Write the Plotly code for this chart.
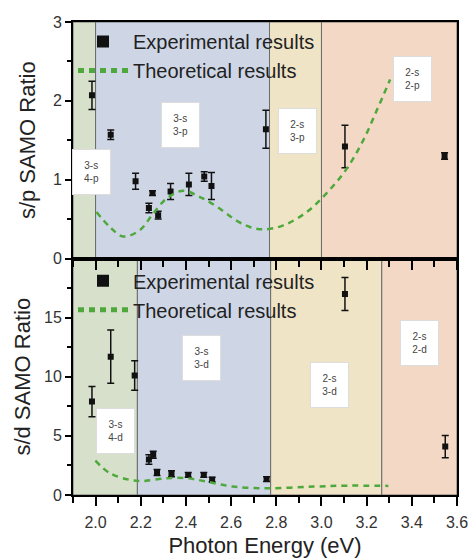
import plotly.graph_objects as go
from plotly.subplots import make_subplots

# ---------------- data ----------------
sp_energy = [1.984, 2.067, 2.177, 2.236, 2.252, 2.277, 2.332, 2.413, 2.481, 2.513, 2.754, 3.104, 3.545]
sp_ratio = [2.07, 1.57, 0.98, 0.64, 0.83, 0.55, 0.85, 0.94, 1.04, 0.92, 1.64, 1.42, 1.30]
sp_err = [0.18, 0.06, 0.10, 0.06, 0.03, 0.05, 0.10, 0.14, 0.06, 0.17, 0.24, 0.27, 0.04]

sp_theory_energy = [2.004, 2.063, 2.122, 2.196, 2.255, 2.314, 2.388, 2.462, 2.536, 2.624, 2.683, 2.742, 2.831, 2.935, 3.023, 3.112, 3.185, 3.245, 3.304]
sp_theory_ratio = [0.59, 0.40, 0.28, 0.36, 0.57, 0.76, 0.86, 0.78, 0.66, 0.48, 0.40, 0.37, 0.42, 0.59, 0.83, 1.14, 1.50, 1.88, 2.27]

sd_energy = [1.984, 2.067, 2.173, 2.236, 2.255, 2.272, 2.336, 2.410, 2.479, 2.516, 2.757, 3.104, 3.548]
sd_ratio = [7.9, 11.7, 10.1, 3.0, 3.4, 1.9, 1.8, 1.7, 1.7, 1.3, 1.35, 17.0, 4.1]
sd_err = [1.28, 2.26, 1.25, 0.4, 0.3, 0.25, 0.25, 0.2, 0.2, 0.2, 0.2, 1.4, 0.94]

sd_theory_energy = [1.999, 2.063, 2.151, 2.210, 2.314, 2.403, 2.491, 2.609, 2.772, 2.964, 3.112, 3.296]
sd_theory_ratio = [2.9, 1.85, 1.28, 1.19, 1.42, 1.42, 1.14, 0.71, 0.57, 0.71, 0.79, 0.77]

top_bands = [1.9, 2.0, 2.77, 3.0, 3.6]
bottom_bands = [1.9, 2.185, 2.775, 3.267, 3.6]
band_colors = ["#d6e0cb", "#ced6e6", "#efe4c5", "#f3d8c6"]

top_labels = ["3-s<br>4-p", "3-s<br>3-p", "2-s<br>3-p", "2-s<br>2-p"]
top_label_x = [1.981, 2.377, 2.894, 3.401]
top_label_y = [1.10, 1.69, 1.62, 2.28]
bottom_labels = ["3-s<br>4-d", "3-s<br>3-d", "2-s<br>3-d", "2-s<br>2-d"]
bottom_label_x = [2.089, 2.468, 3.036, 3.435]
bottom_label_y = [5.4, 11.55, 9.33, 12.83]

top_ticks = [0, 1, 2, 3]
bottom_ticks = [0, 5, 10, 15]
x_ticks = [2.0, 2.2, 2.4, 2.6, 2.8, 3.0, 3.2, 3.4, 3.6]

# ---------------- figure ----------------
FONT = "Liberation Sans, Arial, sans-serif"
GREEN = "#4fa83c"

fig = make_subplots(rows=2, cols=1, shared_xaxes=True, vertical_spacing=0)

# background bands
for bands, yref, xref in [(top_bands, "y domain", "x"), (bottom_bands, "y2 domain", "x2")]:
    for i in range(len(bands) - 1):
        fig.add_shape(type="rect", xref=xref, yref=yref, x0=bands[i], x1=bands[i + 1], y0=0, y1=1,
                      fillcolor=band_colors[i], line=dict(color="#6b6b6b", width=1), layer="below")

def add_panel(row, ex, ey, ee, tx, ty, legend):
    fig.add_trace(go.Scatter(x=ex, y=ey, mode="markers",
                             marker=dict(symbol="square", size=6, color="#111"),
                             error_y=dict(type="data", array=ee, color="#111", thickness=1.5, width=3.5),
                             showlegend=False), row=row, col=1)
    fig.add_trace(go.Scatter(x=[None], y=[None], mode="markers", name="Experimental results",
                             marker=dict(symbol="square", size=6, color="#111"), legend=legend), row=row, col=1)
    fig.add_trace(go.Scatter(x=tx, y=ty, mode="lines", name="Theoretical results",
                             line=dict(color=GREEN, width=2.5, dash="6px,5px", shape="spline"),
                             legend=legend), row=row, col=1)

add_panel(1, sp_energy, sp_ratio, sp_err, sp_theory_energy, sp_theory_ratio, "legend")
add_panel(2, sd_energy, sd_ratio, sd_err, sd_theory_energy, sd_theory_ratio, "legend2")

for labels, lx, ly, xr, yr in [(top_labels, top_label_x, top_label_y, "x", "y"),
                               (bottom_labels, bottom_label_x, bottom_label_y, "x2", "y2")]:
    for t, x, y in zip(labels, lx, ly):
        fig.add_annotation(x=x, y=y, xref=xr, yref=yr, text=t, showarrow=False,
                           width=35, height=42, bgcolor="white", bordercolor="#dddddd", borderwidth=1,
                           font=dict(family=FONT, size=10, color="#444"))

axis_common = dict(showline=True, linecolor="#000", linewidth=2, mirror=True, automargin=False,
                   showgrid=False, zeroline=False, ticks="outside", tickcolor="#000",
                   tickwidth=2, tickfont=dict(family=FONT, size=16, color="#333"))

fig.update_xaxes(range=[1.9, 3.6], tickvals=x_ticks, ticklen=9,
                 minor=dict(ticks="outside", dtick=0.1, tick0=2.0, ticklen=6, tickcolor="#000", tickwidth=2),
                 **axis_common)
fig.update_xaxes(showticklabels=False, row=1, col=1)
fig.update_xaxes(tickformat=".1f", row=2, col=1, ticklabelstandoff=3,
                 title=dict(text="Photon Energy (eV)", font=dict(family=FONT, size=22, color="#222"), standoff=8))

fig.update_yaxes(range=[0, 3], tickvals=top_ticks, ticklen=6,
                 minor=dict(ticks="outside", dtick=0.5, ticklen=4, tickcolor="#000", tickwidth=2),
                 title=dict(text="s/p SAMO Ratio", font=dict(family=FONT, size=22, color="#222"), standoff=11),
                 row=1, col=1, **axis_common)
fig.update_yaxes(range=[0, 20], tickvals=bottom_ticks, ticklen=6,
                 minor=dict(ticks="outside", dtick=2.5, ticklen=4, tickcolor="#000", tickwidth=2),
                 title=dict(text="s/d SAMO Ratio", font=dict(family=FONT, size=22, color="#222"), standoff=7),
                 row=2, col=1, **axis_common)

legend_style = dict(bgcolor="rgba(0,0,0,0)", font=dict(family=FONT, size=20, color="#222"),
                    xanchor="left", yanchor="top", tracegroupgap=0, itemsizing="constant", itemwidth=50)
fig.update_layout(
    width=471, height=558,
    margin=dict(l=73, r=14, t=22, b=63),
    paper_bgcolor="white", plot_bgcolor="white",
    showlegend=True,
    legend=dict(x=0.0, y=1.0, **legend_style),
    legend2=dict(x=0.0, y=0.494, **legend_style),
)

fig.write_html("out.html", config={"displayModeBar": False},
               post_script="document.body.style.margin='0';")
